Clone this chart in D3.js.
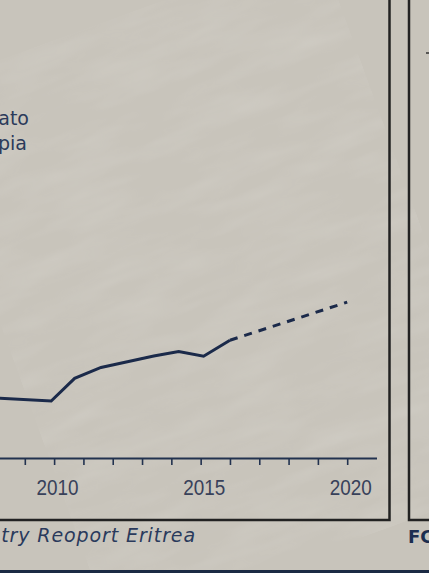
<!DOCTYPE html>
<html>
<head>
<meta charset="utf-8">
<script src="https://cdn.jsdelivr.net/npm/d3@7"></script>
<style>
  html, body { margin: 0; padding: 0; background: #c8c4bb; }
  svg { display: block; }
</style>
</head>
<body>
<svg id="chart" width="429" height="573"></svg>
<script>
// years on the axis, and the labelled ones
const TICK_YEARS = [2008, 2009, 2010, 2011, 2012, 2013, 2014, 2015, 2016, 2017, 2018, 2019, 2020];
const LABEL_YEARS = [2010, 2015, 2020];

const observedYears = [2007.3, 2009.9, 2010.7, 2011.6, 2012.5, 2013.4, 2014.25, 2015.1, 2016.0];
const observedValues = [19.1, 17.8, 24.9, 28.3, 30.1, 31.9, 33.3, 31.8, 36.8];

// projection, drawn dashed
const projectedYears = [2016.0, 2020.0];
const projectedValues = [36.8, 48.7];

const legendLabels = ["Potato", "Ethiopia"];
const captionText = "Source: FAO Country Reoport Eritrea";
const rightPanelLabel = "FCDO";

const NAVY = "#1b2a4a";
const FRAME = "#222222";

const SVG = d3.select("#chart");

// soft paper texture
const defs = SVG.append("defs");
const filt = defs.append("filter").attr("id", "paper").attr("x", 0).attr("y", 0)
    .attr("width", "100%").attr("height", "100%");
filt.append("feTurbulence").attr("type", "fractalNoise")
    .attr("baseFrequency", "0.012 0.05").attr("numOctaves", 3).attr("seed", 7);
filt.append("feColorMatrix").attr("type", "matrix")
    .attr("values", "0 0 0 0 1  0 0 0 0 1  0 0 0 0 1  0 0 0 0.35 -0.12");

SVG.append("rect").attr("width", 429).attr("height", 573).attr("fill", "#c8c4bb");
SVG.append("rect").attr("width", 429).attr("height", 573)
    .attr("filter", "url(#paper)").attr("opacity", 0.5)
    .attr("transform", "rotate(-20 214 286)");

const x = d3.scaleLinear().domain([2008, 2021]).range([-4.5, 376.5]);
const y = d3.scaleLinear().domain([0, 140]).range([458, 10]);

// x axis
const axis = SVG.append("g")
    .attr("transform", `translate(0,${y(0)})`)
    .call(d3.axisBottom(x)
        .tickValues(TICK_YEARS)
        .tickSize(7)
        .tickSizeOuter(0)
        .tickPadding(14)
        .tickFormat(d => LABEL_YEARS.includes(d) ? d : ""));

axis.select(".domain").attr("stroke", "#22324f").attr("stroke-width", 2);
axis.selectAll(".tick line").attr("stroke", "#22324f").attr("stroke-width", 1.6);
axis.selectAll(".tick text")
    .attr("fill", "#38415a")
    .attr("font-family", "'Liberation Sans', Arial, sans-serif")
    .attr("font-size", 22)
    .attr("dx", 3)
    .filter(d => LABEL_YEARS.includes(d))
    .attr("textLength", 42)
    .attr("lengthAdjust", "spacingAndGlyphs");

// lines
const line = d3.line().x(d => x(d[0])).y(d => y(d[1]));

SVG.append("path")
    .datum(d3.zip(observedYears, observedValues))
    .attr("d", line)
    .attr("fill", "none")
    .attr("stroke", NAVY)
    .attr("stroke-width", 3)
    .attr("stroke-linejoin", "miter");

SVG.append("path")
    .datum(d3.zip(projectedYears, projectedValues))
    .attr("d", line)
    .attr("fill", "none")
    .attr("stroke", NAVY)
    .attr("stroke-width", 3)
    .attr("stroke-dasharray", "8,7");

// legend (mostly off the left edge)
SVG.selectAll(".legend")
    .data(legendLabels)
    .join("text")
    .attr("class", "legend")
    .attr("x", (d, i) => i === 0 ? 29 : 27)
    .attr("y", (d, i) => 125 + i * 25)
    .attr("text-anchor", "end")
    .attr("fill", "#2b3a5a")
    .attr("font-family", "'DejaVu Sans', sans-serif")
    .attr("font-size", 19)
    .text(d => d);

// panel frames
const frames = SVG.append("g").attr("fill", "none").attr("stroke", FRAME).attr("stroke-width", 2.5);
frames.append("path").attr("d", "M-5,520 H389.5 V-5");
frames.append("path").attr("d", "M409,-5 V520 H435");
SVG.append("line").attr("x1", 426).attr("x2", 430).attr("y1", 53).attr("y2", 53)
    .attr("stroke", "#333").attr("stroke-width", 1.5);

// caption
SVG.append("text")
    .attr("x", 196).attr("y", 542)
    .attr("text-anchor", "end")
    .attr("fill", "#2a3a5c")
    .attr("font-family", "'DejaVu Sans', sans-serif")
    .attr("font-style", "italic")
    .attr("font-size", 19)
    .attr("letter-spacing", 0.9)
    .text(captionText);

SVG.append("text")
    .attr("x", 408).attr("y", 543)
    .attr("fill", "#1c2e50")
    .attr("font-family", "'DejaVu Sans', sans-serif")
    .attr("font-weight", "bold")
    .attr("font-size", 18)
    .text(rightPanelLabel);

// bottom band
SVG.append("rect").attr("x", 0).attr("y", 570).attr("width", 429).attr("height", 3).attr("fill", "#1b2a44");
</script>
</body>
</html>
